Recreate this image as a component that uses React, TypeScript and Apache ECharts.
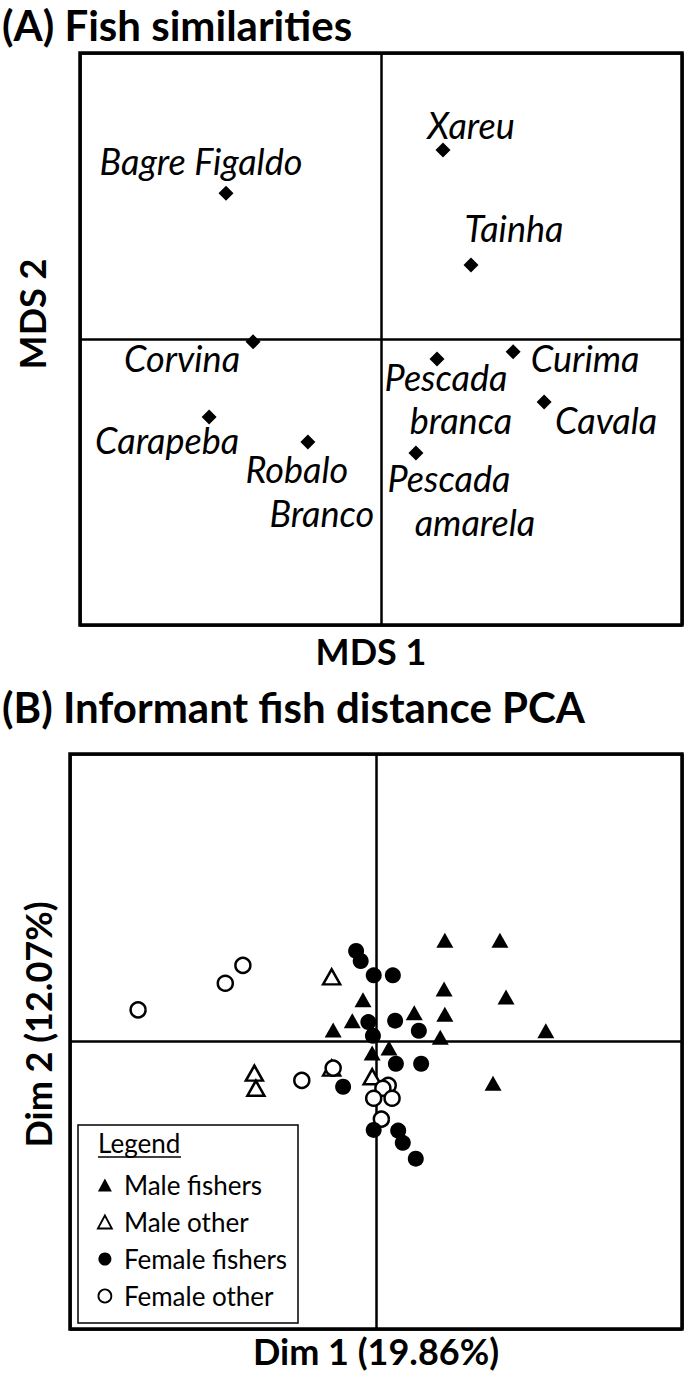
import React, { useEffect, useRef } from "react";
import * as echarts from "echarts";

// ---------- Panel A: MDS of fish similarities ----------
const fishNames = [
  "Bagre Figaldo",
  "Xareu",
  "Tainha",
  "Corvina",
  "Carapeba",
  "Robalo Branco",
  "Pescada branca",
  "Curima",
  "Cavala",
  "Pescada amarela",
];
const mds1 = [-0.515, 0.206, 0.299, -0.425, -0.571, -0.243, 0.186, 0.439, 0.542, 0.116];
const mds2 = [0.51, 0.661, 0.259, -0.01, -0.273, -0.36, -0.07, -0.045, -0.22, -0.399];

// label text lines per fish (index into fishNames)
const labelTexts: [number, string][] = [
  [0, "Bagre Figaldo"],
  [1, "Xareu"],
  [2, "Tainha"],
  [3, "Corvina"],
  [4, "Carapeba"],
  [5, "Robalo"],
  [5, "Branco"],
  [6, "Pescada"],
  [6, "branca"],
  [7, "Curima"],
  [8, "Cavala"],
  [9, "Pescada"],
  [9, "amarela"],
];
// pixel offsets of each label line's centre from its point
const labelOffsets: [number, number][] = [
  [-25, -32],
  [28, -25],
  [43, -37],
  [-71, 16],
  [-42, 23],
  [-11, 27],
  [14, 71],
  [9, 18],
  [24, 61],
  [72, 6],
  [62, 18],
  [33, 25],
  [59, 69],
];

// ---------- Panel B: PCA of informants ----------
const maleFishersDim1 = [0.9, 1.62, 0.89, 1.7, 0.5, 0.9, 0.84, 2.22, -0.56, -0.31, -0.17, 0.17, -0.05, 1.53];
const maleFishersDim2 = [1.41, 1.41, 0.73, 0.62, 0.4, 0.38, 0.06, 0.15, 0.16, 0.29, 0.58, -0.09, -0.16, -0.58];

const maleOtherDim1 = [-0.58, -1.59, -1.57, -0.58, -0.05];
const maleOtherDim2 = [0.9, -0.44, -0.65, -0.37, -0.49];

const femaleFishersDim1 = [-0.26, -0.2, -0.03, 0.22, -0.1, -0.04, 0.25, 0.56, 0.26, 0.59, -0.43, -0.03, 0.29, 0.35, 0.52];
const femaleFishersDim2 = [1.26, 1.12, 0.92, 0.92, 0.27, 0.08, 0.29, 0.15, -0.31, -0.31, -0.63, -1.23, -1.24, -1.41, -1.63];

const femaleOtherDim1 = [-3.11, -1.97, -1.74, -0.97, -0.56, 0.16, 0.09, -0.03, 0.21, 0.07];
const femaleOtherDim2 = [0.44, 0.81, 1.06, -0.54, -0.37, -0.61, -0.65, -0.79, -0.79, -1.08];

const groupNames = ["Male fishers", "Male other", "Female fishers", "Female other"];

const FONT = "Lato, 'Open Sans', 'Noto Sans', sans-serif";

const zip = (a: number[], b: number[]) => a.map((v, i) => [v, b[i]]);

export default function App() {
  const ref = useRef<HTMLDivElement>(null);

  useEffect(() => {
    if (!ref.current) return;
    const chart = echarts.init(ref.current, null, { renderer: "svg" });

    const nameStyle = { fontFamily: FONT, fontWeight: "bold", fontSize: 36, color: "#000" };
    const axisBase = {
      type: "value" as const,
      axisLine: { show: false },
      axisTick: { show: false },
      axisLabel: { show: false },
      splitLine: { show: true, lineStyle: { color: "#000", width: 2.5 } },
      nameLocation: "middle" as const,
    };

    const openStyle = { color: "#fff", borderColor: "#000", borderWidth: 2.5, opacity: 1 };
    const fillStyle = { color: "#000", opacity: 1 };

    const option: any = {
      animation: false,
      backgroundColor: "#fff",
      title: [
        {
          text: "(A) Fish similarities",
          left: 2,
          top: 4,
          padding: 0,
          textStyle: { fontFamily: FONT, fontWeight: "bold", fontSize: 42, color: "#000" },
        },
        {
          text: "(B) Informant fish distance PCA",
          left: 2,
          top: 686,
          padding: 0,
          textStyle: { fontFamily: FONT, fontWeight: "bold", fontSize: 42, color: "#000" },
        },
      ],
      grid: [
        { left: 80, top: 53, width: 602, height: 572, show: true, borderColor: "#000", borderWidth: 3.5 },
        { left: 70, top: 754, width: 612, height: 575, show: true, borderColor: "#000", borderWidth: 3.5 },
      ],
      xAxis: [
        {
          ...axisBase,
          gridIndex: 0,
          min: -1,
          max: 1,
          interval: 1,
          name: "MDS 1",
          nameGap: 8,
          nameTextStyle: { ...nameStyle, padding: [0, 20, 0, 0] },
        },
        {
          ...axisBase,
          gridIndex: 1,
          min: -4,
          max: 4,
          interval: 4,
          name: "Dim 1 (19.86%)",
          nameGap: 4,
          nameTextStyle: { ...nameStyle },
        },
      ],
      yAxis: [
        {
          ...axisBase,
          gridIndex: 0,
          min: -1,
          max: 1,
          interval: 1,
          name: "MDS 2",
          nameRotate: 90,
          nameGap: 30,
          nameTextStyle: { ...nameStyle, padding: [0, 0, 0, 50] },
        },
        {
          ...axisBase,
          gridIndex: 1,
          min: -4,
          max: 4,
          interval: 4,
          name: "Dim 2 (12.07%)",
          nameRotate: 90,
          nameGap: 14,
          nameTextStyle: { ...nameStyle, padding: [0, 0, 0, 34] },
        },
      ],
      legend: {
        orient: "vertical",
        left: 97,
        top: 1172,
        z: 10,
        padding: 0,
        itemWidth: 14,
        itemHeight: 13,
        itemGap: 11,
        textStyle: { fontFamily: FONT, fontSize: 26, color: "#000", padding: [0, 0, 0, 7] },
        data: [
          { name: groupNames[0], icon: "triangle", itemStyle: { color: "#000" } },
          { name: groupNames[1], icon: "triangle", itemStyle: { color: "#fff", borderColor: "#000", borderWidth: 1.8 } },
          { name: groupNames[2], icon: "circle", itemStyle: { color: "#000" } },
          { name: groupNames[3], icon: "circle", itemStyle: { color: "#fff", borderColor: "#000", borderWidth: 1.8 } },
        ],
      },
      graphic: [
        {
          type: "rect",
          z: 1,
          shape: { x: 78, y: 1125, width: 220, height: 198 },
          style: { fill: "#fff", stroke: "#000", lineWidth: 1.5 },
        },
        {
          type: "text",
          z: 11,
          x: 98,
          y: 1143,
          style: {
            text: "Legend",
            fontFamily: FONT,
            fontSize: 26,
            fill: "#000",
            verticalAlign: "middle",
          },
        },
        {
          type: "line",
          z: 11,
          shape: { x1: 98, y1: 1157, x2: 181, y2: 1157 },
          style: { stroke: "#000", lineWidth: 1.5 },
        },
      ],
      series: [
        {
          name: "Fish",
          type: "scatter",
          xAxisIndex: 0,
          yAxisIndex: 0,
          symbol: "diamond",
          symbolSize: 15,
          itemStyle: { color: "#000", opacity: 1 },
          data: fishNames.map((n, i) => ({ name: n, value: [mds1[i], mds2[i]] })),
        },
        {
          name: "Fish labels",
          type: "scatter",
          xAxisIndex: 0,
          yAxisIndex: 0,
          symbolSize: 1,
          itemStyle: { color: "rgba(0,0,0,0)", opacity: 1 },
          label: {
            show: true,
            position: "inside",
            fontFamily: FONT,
            fontStyle: "italic",
            fontSize: 36,
            color: "#000",
          },
          data: labelTexts.map(([fi, text], k) => ({
            name: text,
            value: [mds1[fi], mds2[fi]],
            label: { formatter: text, offset: labelOffsets[k] },
          })),
        },
        {
          name: groupNames[1],
          type: "scatter",
          xAxisIndex: 1,
          yAxisIndex: 1,
          symbol: "triangle",
          symbolSize: [17, 15],
          itemStyle: openStyle,
          data: zip(maleOtherDim1, maleOtherDim2),
        },
        {
          name: groupNames[3],
          type: "scatter",
          xAxisIndex: 1,
          yAxisIndex: 1,
          symbol: "circle",
          symbolSize: 15,
          itemStyle: openStyle,
          data: zip(femaleOtherDim1, femaleOtherDim2),
        },
        {
          name: groupNames[0],
          type: "scatter",
          xAxisIndex: 1,
          yAxisIndex: 1,
          symbol: "triangle",
          symbolSize: [17, 15],
          itemStyle: fillStyle,
          data: zip(maleFishersDim1, maleFishersDim2),
        },
        {
          name: groupNames[2],
          type: "scatter",
          xAxisIndex: 1,
          yAxisIndex: 1,
          symbol: "circle",
          symbolSize: 16,
          itemStyle: fillStyle,
          data: zip(femaleFishersDim1, femaleFishersDim2),
        },
      ],
    };

    chart.setOption(option);
    return () => chart.dispose();
  }, []);

  return (
    <div
      ref={ref}
      style={{ position: "absolute", left: 0, top: 0, width: 685, height: 1374, background: "#fff" }}
    />
  );
}
